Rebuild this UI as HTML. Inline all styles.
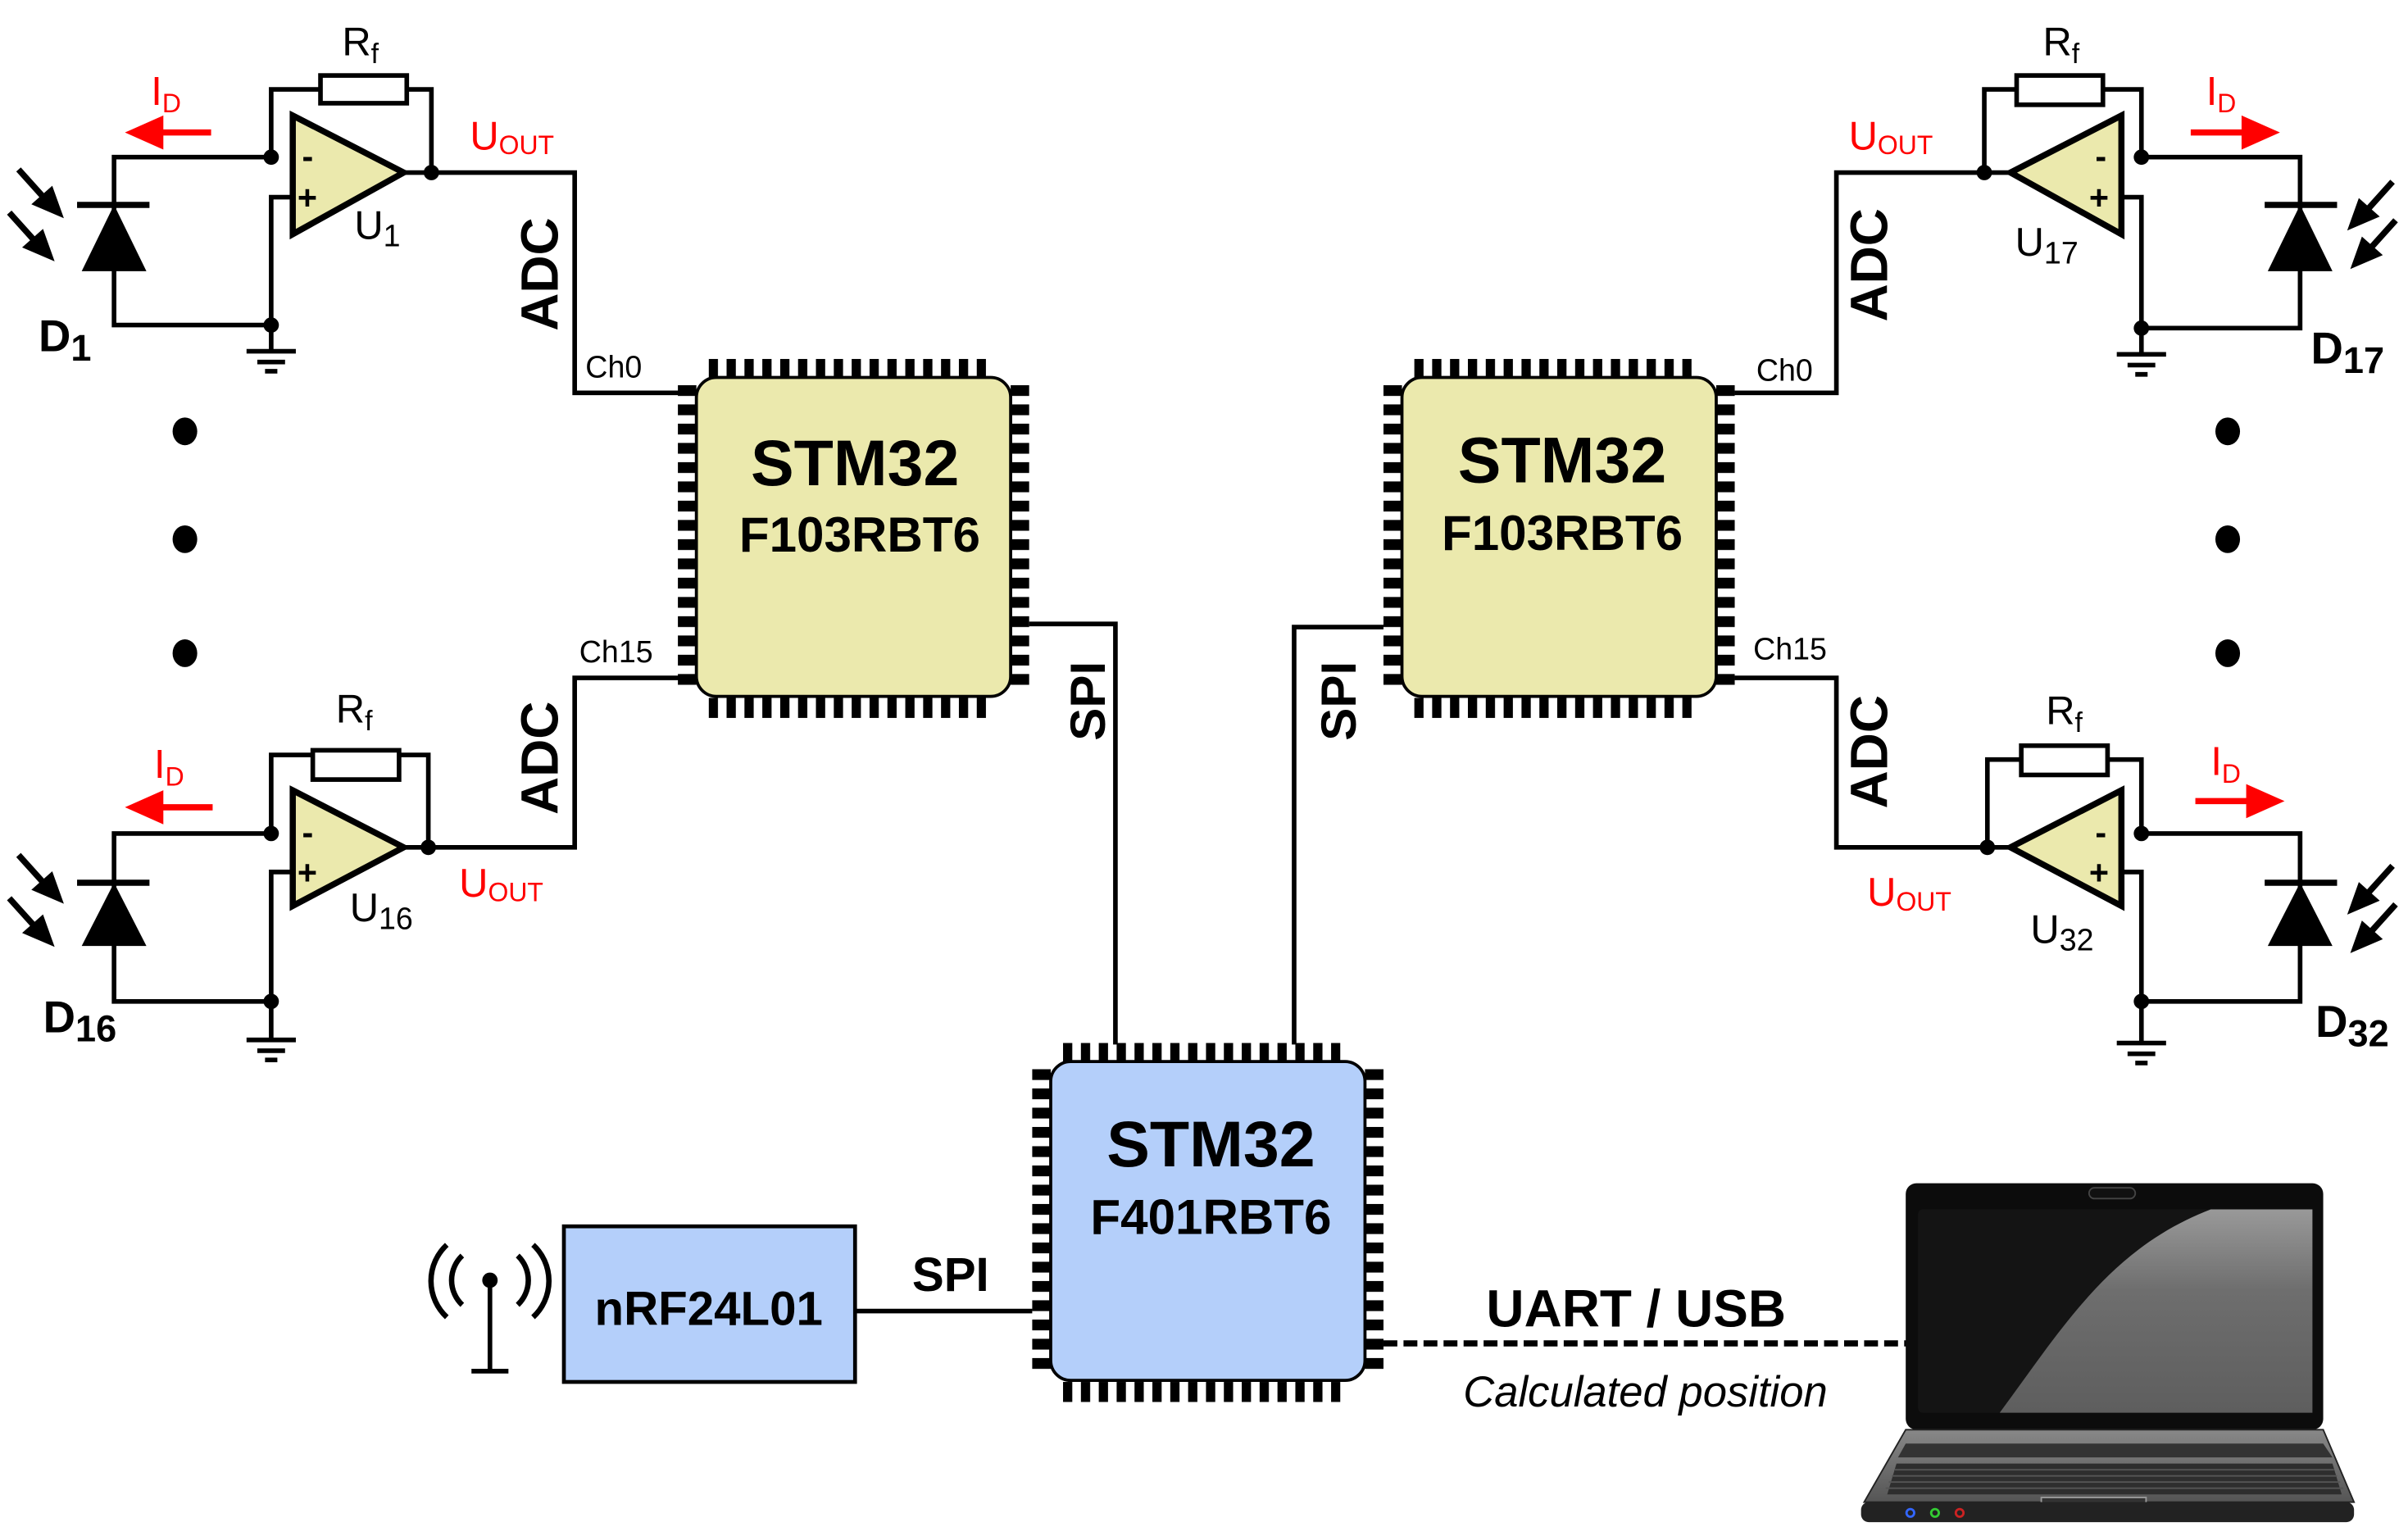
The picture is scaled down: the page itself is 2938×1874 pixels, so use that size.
<!DOCTYPE html>
<html><head><meta charset="utf-8"><style>
html,body{margin:0;padding:0;background:#fff;}
svg{display:block;}
text{font-family:"Liberation Sans",sans-serif;}
</style></head><body>
<svg width="2938" height="1874" viewBox="0 0 1563 997" xmlns="http://www.w3.org/2000/svg">
<defs>
<pattern id="ph" patternUnits="userSpaceOnUse" x="8" y="0" width="11.6" height="20"><rect x="0" y="0" width="6" height="20" fill="#000"/></pattern>
<pattern id="pv" patternUnits="userSpaceOnUse" x="0" y="5" width="20" height="12.5"><rect x="0" y="0" width="20" height="7" fill="#000"/></pattern>
<g id="pins">
<rect x="8" y="-12" width="180" height="12" fill="url(#ph)"/>
<rect x="8" y="208" width="180" height="13" fill="url(#ph)"/>
<rect x="-12" y="5" width="12" height="195" fill="url(#pv)"/>
<rect x="204" y="5" width="12" height="195" fill="url(#pv)"/>
</g>
<linearGradient id="base" x1="0" y1="0" x2="0" y2="1"><stop offset="0" stop-color="#888"/><stop offset="1" stop-color="#555"/></linearGradient>
<linearGradient id="hl" x1="0" y1="0" x2="0" y2="1"><stop offset="0" stop-color="#999"/><stop offset="0.4" stop-color="#6e6e6e"/><stop offset="1" stop-color="#5e5e5e"/></linearGradient>
</defs>

<g stroke="#000" stroke-width="3" fill="none" stroke-linejoin="miter">
<path d="M176,102 H74 V211 H176"/>
<path d="M176,102 V58 H208 M264,58 H280 V112"/>
<rect x="208" y="49" width="56" height="18" fill="#fff"/>
<path d="M190,128 H176 V228"/>
<path d="M262,112 H373 V255 H441"/>
<path d="M190,75 L262,112 L190,152 Z" fill="#ebe9ad" stroke-width="4"/>
<path d="M160,228 H192 M167,235 H185 M172,241 H180"/>
<path d="M176,541 H74 V650 H176"/>
<path d="M176,541 V490 H203 M259,490 H278 V550"/>
<rect x="203" y="487" width="56" height="19" fill="#fff"/>
<path d="M190,566 H176 V675"/>
<path d="M262,550 H373 V440 H441"/>
<path d="M190,513 L262,550 L190,588 Z" fill="#ebe9ad" stroke-width="4"/>
<path d="M160,675 H192 M167,682 H185 M172,688 H180"/>
<path d="M1390,102 H1493 V213 H1390"/>
<path d="M1288,112 V58 H1309 M1365,58 H1390 V102"/>
<rect x="1309" y="49" width="56" height="19" fill="#fff"/>
<path d="M1377,128 H1390 V230"/>
<path d="M1305,112 H1192 V255 H1126"/>
<path d="M1377,75 L1305,112 L1377,152 Z" fill="#ebe9ad" stroke-width="4"/>
<path d="M1374,230 H1406 M1381,237 H1399 M1386,243 H1394"/>
<path d="M1390,541 H1493 V650 H1390"/>
<path d="M1290,550 V493 H1312 M1368,493 H1390 V541"/>
<rect x="1312" y="484" width="56" height="19" fill="#fff"/>
<path d="M1377,566 H1390 V677"/>
<path d="M1305,550 H1192 V440 H1126"/>
<path d="M1377,513 L1305,550 L1377,588 Z" fill="#ebe9ad" stroke-width="4"/>
<path d="M1374,677 H1406 M1381,684 H1399 M1386,690 H1394"/>
<path d="M668,405 H724 V678"/>
<path d="M898,407 H840 V678"/>
<path d="M555,851 H670"/>
<path d="M318,832 V890 M306,890 H330"/>
<path d="M300,815 A22,22 0 0 0 300,847 M336,815 A22,22 0 0 1 336,847" stroke-width="3.5"/>
<path d="M290,808 A32,32 0 0 0 290,855 M346,808 A32,32 0 0 1 346,855" stroke-width="3.5"/>
<path d="M898,872 H1238" stroke-dasharray="9,4" stroke-width="4"/>
</g>

<g fill="#000" stroke="#000" stroke-width="4">
<path d="M50,133 H97 M1470,133 H1517 M50,573 H97 M1470,573 H1517"/>
</g>
<g fill="#000">
<path d="M74,133 L53,176 H95 Z"/>
<path d="M74,573 L53,614 H95 Z"/>
<path d="M1493,133 L1472,176 H1514 Z"/>
<path d="M1493,573 L1472,614 H1514 Z"/>
<circle cx="176" cy="102" r="5"/><circle cx="280" cy="112" r="5"/><circle cx="176" cy="211" r="5"/>
<circle cx="176" cy="541" r="5"/><circle cx="278" cy="550" r="5"/><circle cx="176" cy="650" r="5"/>
<circle cx="1390" cy="102" r="5"/><circle cx="1288" cy="112" r="5"/><circle cx="1390" cy="213" r="5"/>
<circle cx="1390" cy="541" r="5"/><circle cx="1290" cy="550" r="5"/><circle cx="1390" cy="650" r="5"/>
<circle cx="318" cy="831" r="5"/>
<ellipse cx="120" cy="280" rx="8" ry="9"/><ellipse cx="120" cy="350" rx="8" ry="9"/><ellipse cx="120" cy="424" rx="8" ry="9"/>
<ellipse cx="1446" cy="280" rx="8" ry="9"/><ellipse cx="1446" cy="350" rx="8" ry="9"/><ellipse cx="1446" cy="424" rx="8" ry="9"/>
</g>
<g stroke="#000" stroke-width="4" fill="#000">
<path d="M12,110 L30,130"/><path d="M38,138 L24,132 L33,124 Z"/>
<path d="M6,138 L24,158"/><path d="M32,166 L18,160 L27,152 Z"/>
<path d="M12,555 L30,575"/><path d="M38,583 L24,577 L33,569 Z"/>
<path d="M6,583 L24,603"/><path d="M32,611 L18,605 L27,597 Z"/>
<path d="M1553,118 L1535,138"/><path d="M1527,146 L1532,132 L1541,140 Z"/>
<path d="M1555,143 L1537,163"/><path d="M1529,171 L1534,157 L1543,165 Z"/>
<path d="M1553,562 L1535,582"/><path d="M1527,590 L1532,576 L1541,584 Z"/>
<path d="M1555,587 L1537,607"/><path d="M1529,615 L1534,601 L1543,609 Z"/>
</g>
<g fill="#f00" stroke="#f00" stroke-width="4">
<path d="M137,86 H100"/><path d="M86,86 L104,78 V94 Z"/>
<path d="M138,524 H100"/><path d="M86,524 L104,516 V532 Z"/>
<path d="M1422,86 H1460"/><path d="M1475,86 L1457,78 V94 Z"/>
<path d="M1425,520 H1463"/><path d="M1478,520 L1460,512 V528 Z"/>
</g>

<g font-size="22" font-weight="bold" fill="#000">
<text x="196" y="109">-</text><text x="193" y="136">+</text>
<text x="196" y="548">-</text><text x="193" y="574">+</text>
<text x="1360" y="109">-</text><text x="1356" y="136">+</text>
<text x="1360" y="548">-</text><text x="1356" y="574">+</text>
</g>

<g transform="translate(452,245)">
<use href="#pins"/>
<rect x="0" y="0" width="204" height="207" rx="13" fill="#ebe9ad" stroke="#000" stroke-width="2"/>
</g>
<g transform="translate(910,245)">
<use href="#pins"/>
<rect x="0" y="0" width="204" height="207" rx="13" fill="#ebe9ad" stroke="#000" stroke-width="2"/>
</g>
<g transform="translate(682,689)">
<use href="#pins"/>
<rect x="0" y="0" width="204" height="207" rx="13" fill="#b4cffa" stroke="#000" stroke-width="2"/>
</g>
<rect x="366" y="796" width="189" height="101" fill="#b4cffa" stroke="#000" stroke-width="2.5"/>

<g font-weight="bold" fill="#000" text-anchor="middle">
<text x="555" y="315" font-size="42">STM32</text>
<text x="558" y="358" font-size="32">F103RBT6</text>
<text x="1014" y="313" font-size="42">STM32</text>
<text x="1014" y="357" font-size="32">F103RBT6</text>
<text x="786" y="757" font-size="42">STM32</text>
<text x="786" y="801" font-size="32">F401RBT6</text>
<text x="460" y="860" font-size="31">nRF24L01</text>
<text x="617" y="838" font-size="31">SPI</text>
<text x="1062" y="861" font-size="34">UART / USB</text>
<text transform="translate(362,178) rotate(-90)" font-size="34">ADC</text>
<text transform="translate(362,492) rotate(-90)" font-size="34">ADC</text>
<text transform="translate(1225,172) rotate(-90)" font-size="34">ADC</text>
<text transform="translate(1225,488) rotate(-90)" font-size="34">ADC</text>
<text transform="translate(717,455) rotate(-90)" font-size="32">SPI</text>
<text transform="translate(880,455) rotate(-90)" font-size="32">SPI</text>
</g>
<text x="1068" y="913" font-size="28" font-style="italic" text-anchor="middle" fill="#000">Calculated position</text>
<g font-size="20" fill="#000">
<text x="380" y="245">Ch0</text><text x="376" y="430">Ch15</text>
<text x="1140" y="247">Ch0</text><text x="1138" y="428">Ch15</text>
</g>
<g font-size="26" fill="#000">
<text x="222" y="36">R<tspan font-size="18" dy="5">f</tspan></text>
<text x="218" y="469">R<tspan font-size="18" dy="5">f</tspan></text>
<text x="1326" y="36">R<tspan font-size="18" dy="5">f</tspan></text>
<text x="1328" y="470">R<tspan font-size="18" dy="5">f</tspan></text>
<text x="230" y="155">U<tspan font-size="20" dy="5">1</tspan></text>
<text x="227" y="598">U<tspan font-size="20" dy="5">16</tspan></text>
<text x="1308" y="166">U<tspan font-size="20" dy="5">17</tspan></text>
<text x="1318" y="612">U<tspan font-size="20" dy="5">32</tspan></text>
</g>
<g font-size="29" font-weight="bold" fill="#000">
<text x="25" y="228">D<tspan font-size="24" dy="6">1</tspan></text>
<text x="28" y="670">D<tspan font-size="24" dy="6">16</tspan></text>
<text x="1500" y="236">D<tspan font-size="24" dy="6">17</tspan></text>
<text x="1503" y="673">D<tspan font-size="24" dy="6">32</tspan></text>
</g>
<g font-size="26" fill="#f00">
<text x="98" y="68">I<tspan font-size="17" dy="5">D</tspan></text>
<text x="100" y="505">I<tspan font-size="17" dy="5">D</tspan></text>
<text x="1432" y="68">I<tspan font-size="17" dy="5">D</tspan></text>
<text x="1435" y="503">I<tspan font-size="17" dy="5">D</tspan></text>
<text x="305" y="97">U<tspan font-size="17" dy="3">OUT</tspan></text>
<text x="298" y="582">U<tspan font-size="17" dy="3">OUT</tspan></text>
<text x="1200" y="97">U<tspan font-size="17" dy="3">OUT</tspan></text>
<text x="1212" y="588">U<tspan font-size="17" dy="3">OUT</tspan></text>
</g>

<rect x="1237" y="768" width="271" height="160" rx="7" fill="#0c0c0c"/>
<rect x="1245" y="785" width="256" height="132" rx="3" fill="#141414"/>
<path d="M1435,785 H1501 V917 H1298 C1340,860 1370,810 1435,785 Z" fill="url(#hl)"/>
<rect x="1356" y="771" width="30" height="7" rx="3.5" fill="#111" stroke="#444" stroke-width="1"/>
<path d="M1237,928 H1508 L1528,975 H1210 Z" fill="url(#base)" stroke="#222" stroke-width="1"/>
<path d="M1237,937 H1508 L1514,946 H1232 Z" fill="#333"/>
<path d="M1231,950 H1514 L1520,970 H1225 Z" fill="#2e2e2e"/>
<g stroke="#555" stroke-width="1">
<path d="M1230,954 H1515 M1228,958 H1517 M1226,962 H1519 M1224,966 H1521"/>
</g>
<rect x="1325" y="972" width="68" height="14" fill="#333" stroke="#999" stroke-width="1"/>
<rect x="1208" y="975" width="320" height="13" rx="5" fill="#222"/>
<circle cx="1240" cy="982" r="2.5" fill="none" stroke="#36f" stroke-width="1.5"/>
<circle cx="1256" cy="982" r="2.5" fill="none" stroke="#3c3" stroke-width="1.5"/>
<circle cx="1272" cy="982" r="2.5" fill="none" stroke="#c22" stroke-width="1.5"/>
</svg>
</body></html>
